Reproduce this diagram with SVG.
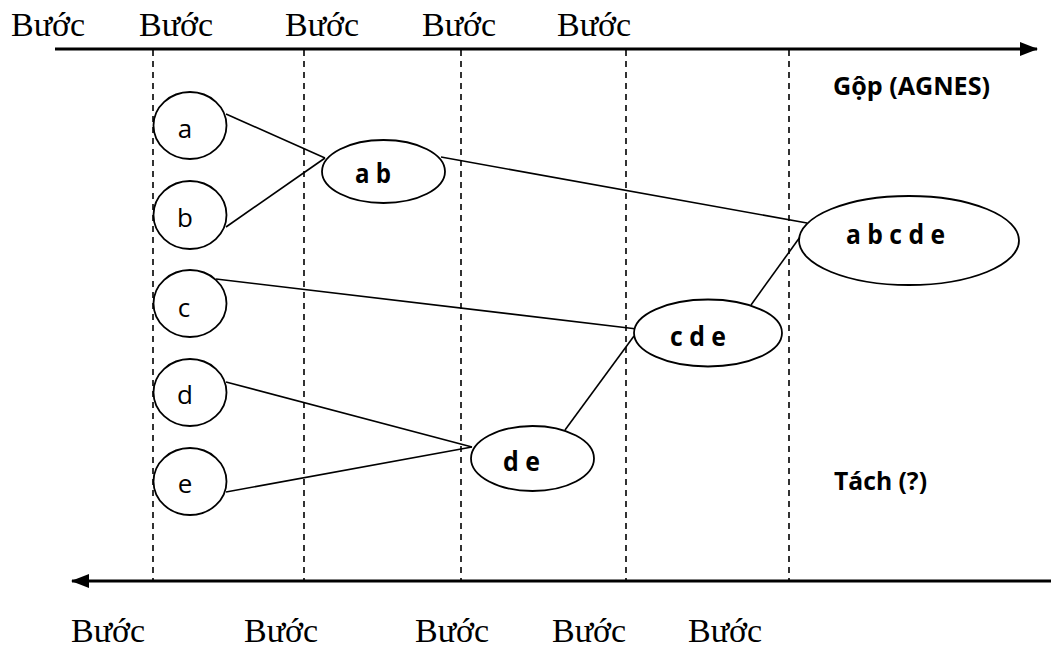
<svg xmlns="http://www.w3.org/2000/svg" width="1051" height="648" viewBox="0 0 1051 648">
  <style>
    .step { font-family: "Liberation Serif", "Times New Roman", serif; font-size: 34px; fill: #000; }
    .leaf { font-family: "Open Sans", "Liberation Sans", sans-serif; font-size: 26px; fill: #000; text-anchor: middle; }
    .cluster { font-family: "Open Sans", "Liberation Sans", sans-serif; font-size: 26px; font-weight: bold; fill: #000; text-anchor: middle; }
    .caption { font-family: "Open Sans", "Liberation Sans", sans-serif; font-size: 25px; font-weight: bold; fill: #000; }
    .node { fill: #fff; stroke: #000; stroke-width: 1.8; }
    .link { stroke: #000; stroke-width: 1.6; fill: none; }
    .axis { stroke: #000; stroke-width: 3; fill: none; }
    .grid { stroke: #000; stroke-width: 1.6; stroke-dasharray: 6 5; fill: none; }
  </style>
  <defs>
    <marker id="arrow" viewBox="0 0 18 14" refX="17" refY="7" markerWidth="18" markerHeight="14" markerUnits="userSpaceOnUse" orient="auto">
      <path d="M0,0 L18,7 L0,14 Z" fill="#000"/>
    </marker>
  </defs>

  <rect width="1051" height="648" fill="#fff"/>

  <!-- step grid lines -->
  <g id="grid">
    <line class="grid" x1="153" y1="50" x2="153" y2="580"/>
    <line class="grid" x1="304" y1="50" x2="304" y2="580"/>
    <line class="grid" x1="461" y1="50" x2="461" y2="580"/>
    <line class="grid" x1="626" y1="50" x2="626" y2="580"/>
    <line class="grid" x1="789" y1="50" x2="789" y2="580"/>
  </g>

  <!-- direction axes -->
  <g id="axes">
    <line class="axis" x1="55" y1="49" x2="1037" y2="49" marker-end="url(#arrow)"/>
    <line class="axis" x1="1051" y1="581" x2="72" y2="581" marker-end="url(#arrow)"/>
  </g>

  <!-- step labels -->
  <g id="steps-top">
    <text class="step" x="11" y="36">Bước</text>
    <text class="step" x="139" y="36">Bước</text>
    <text class="step" x="285" y="36">Bước</text>
    <text class="step" x="422" y="36">Bước</text>
    <text class="step" x="557" y="36">Bước</text>
  </g>
  <g id="steps-bottom">
    <text class="step" x="71" y="642">Bước</text>
    <text class="step" x="244" y="642">Bước</text>
    <text class="step" x="415" y="642">Bước</text>
    <text class="step" x="552" y="642">Bước</text>
    <text class="step" x="688" y="642">Bước</text>
  </g>

  <!-- connectors -->
  <g id="connectors">
    <line class="link" x1="226" y1="114" x2="325" y2="158"/>
    <line class="link" x1="226" y1="227" x2="325" y2="158"/>
    <line class="link" x1="441" y1="157" x2="807" y2="223"/>
    <line class="link" x1="216" y1="279" x2="637" y2="329"/>
    <line class="link" x1="226" y1="382" x2="472" y2="447"/>
    <line class="link" x1="226" y1="492" x2="472" y2="447"/>
    <line class="link" x1="565" y1="430" x2="634" y2="336"/>
    <line class="link" x1="751" y1="305" x2="800" y2="237"/>
  </g>

  <!-- nodes -->
  <g id="node-a">
    <ellipse class="node" cx="190" cy="125.5" rx="36.5" ry="33.5"/>
    <text class="leaf" x="185" y="138">a</text>
  </g>
  <g id="node-b">
    <ellipse class="node" cx="190" cy="215" rx="36.5" ry="34"/>
    <text class="leaf" x="185" y="227">b</text>
  </g>
  <g id="node-c">
    <ellipse class="node" cx="190" cy="303.5" rx="36.5" ry="33.5"/>
    <text class="leaf" x="184" y="317">c</text>
  </g>
  <g id="node-d">
    <ellipse class="node" cx="190" cy="392.5" rx="36.5" ry="33.5"/>
    <text class="leaf" x="185" y="404">d</text>
  </g>
  <g id="node-e">
    <ellipse class="node" cx="190" cy="481.5" rx="36.5" ry="33.5"/>
    <text class="leaf" x="185" y="493">e</text>
  </g>
  <g id="node-ab">
    <ellipse class="node" cx="383.5" cy="171.5" rx="61.5" ry="31.5"/>
    <text class="cluster" x="373" y="183" textLength="36" lengthAdjust="spacingAndGlyphs">a b</text>
  </g>
  <g id="node-de">
    <ellipse class="node" cx="532.5" cy="458.5" rx="61.5" ry="32.5"/>
    <text class="cluster" x="521.5" y="471" textLength="37" lengthAdjust="spacingAndGlyphs">d e</text>
  </g>
  <g id="node-cde">
    <ellipse class="node" cx="708" cy="333" rx="74" ry="33.5"/>
    <text class="cluster" x="698" y="346" textLength="56" lengthAdjust="spacingAndGlyphs">c d e</text>
  </g>
  <g id="node-abcde">
    <ellipse class="node" cx="909" cy="240.5" rx="110" ry="44.5"/>
    <text class="cluster" x="895.5" y="244" textLength="99" lengthAdjust="spacingAndGlyphs">a b c d e</text>
  </g>

  <!-- direction captions -->
  <g id="captions">
    <text class="caption" x="833" y="95" textLength="157" lengthAdjust="spacingAndGlyphs">Gộp (AGNES)</text>
    <text class="caption" x="834" y="490" textLength="93" lengthAdjust="spacingAndGlyphs">Tách (?)</text>
  </g>
</svg>
